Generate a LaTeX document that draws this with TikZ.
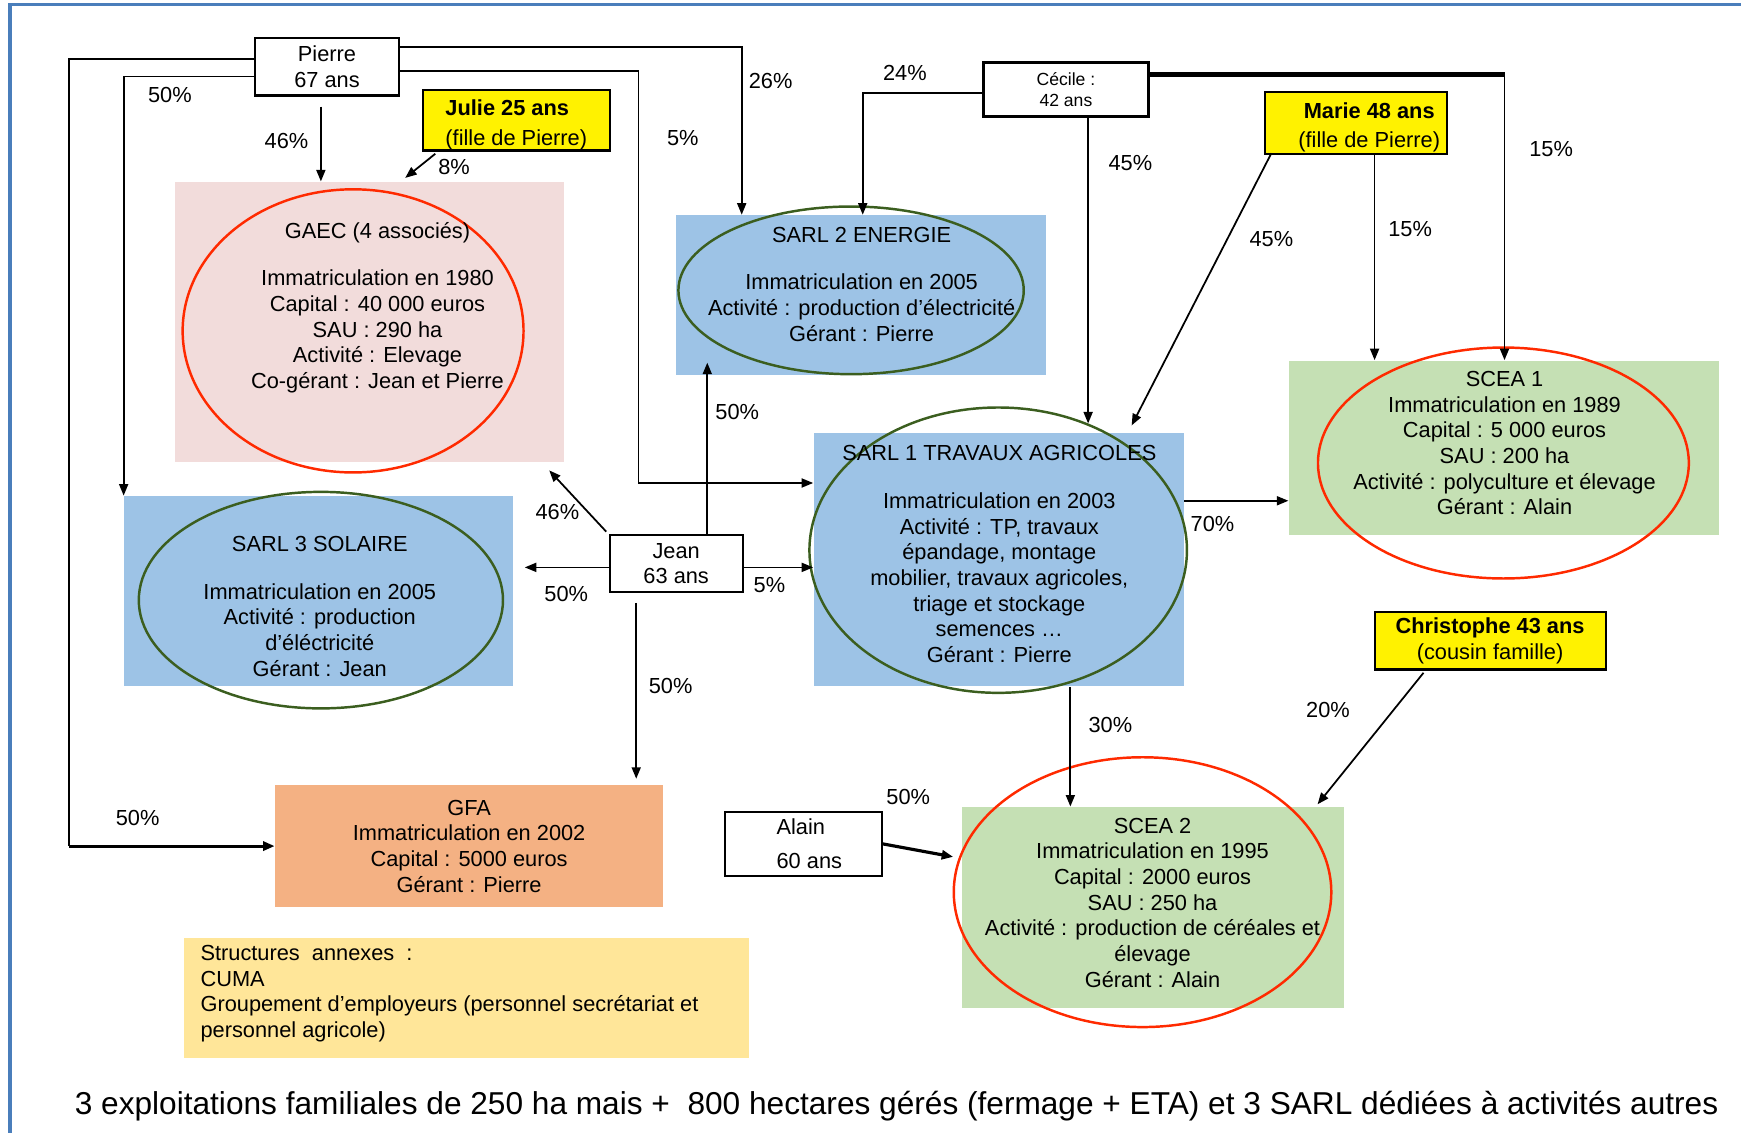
\documentclass[tikz,border=0pt]{standalone}
\usepackage{fontspec}
\setmainfont{Liberation Sans}
\usetikzlibrary{arrows.meta,shapes.geometric,calc}

\newdimen\pxu
\pxu=0.11103mm

\definecolor{framebl}{HTML}{4A7EBB}
\definecolor{gaecfill}{HTML}{F2DCDB}
\definecolor{sarlfill}{HTML}{9DC3E6}
\definecolor{sceafill}{HTML}{C5E0B4}
\definecolor{gfafill}{HTML}{F4B183}
\definecolor{annexfill}{HTML}{FFE699}
\definecolor{ellred}{HTML}{FF2A00}
\definecolor{ellgreen}{HTML}{3B5E1F}

\tikzset{
  zone/.style 2 args={inner sep=0pt, minimum width=#1\pxu, minimum height=#2\pxu},
  ring/.style 2 args={ellipse, draw, line width=0.7pt, inner sep=0pt, minimum width=#1\pxu, minimum height=#2\pxu},
  person/.style 2 args={draw, line width=0.6pt, inner sep=0pt, minimum width=#1\pxu, minimum height=#2\pxu, align=center},
  link/.style={line width=0.5pt},
  arr/.style={link, -{Triangle[length=1.15mm,width=0.9mm]}},
  pct/.style={inner sep=0pt},
}

\begin{document}
\begin{tikzpicture}[x=0.11103mm, y=-0.11103mm,
  every node/.append style={font=\fontsize{6.2}{7.3}\selectfont}]
\useasboundingbox (0,0) rectangle (1568,1020);
\draw[framebl, line width=0.9pt] (9,1020) -- (9,4) -- (1568,4);

% societes
\node[zone={350}{252}, fill=gaecfill] (gaec) at (333,290) {};
\node[ring={307}{255}, draw=ellred] (gaecring) at (318,298) {};
\node[align=center] (gaectext) at (340,277) {GAEC (4 associés)\\[6.3pt]Immatriculation en 1980\\Capital : 40 000 euros\\SAU : 290 ha\\Activité : Elevage\\Co-gérant : Jean et Pierre};

\node[zone={333}{144}, fill=sarlfill] (sarl2) at (775.5,266) {};
\node[ring={311}{151}, draw=ellgreen] (sarl2ring) at (766.5,261.5) {};
\node[align=center] (sarl2text) at (776,256) {SARL 2 ENERGIE\\[6.3pt]Immatriculation en 2005\\Activité : production d’électricité\\Gérant : Pierre};

\node[zone={333}{228}, fill=sarlfill] (sarl1) at (899.5,504) {};
\node[ring={340}{257}, draw=ellgreen] (sarl1ring) at (899,495.5) {};
\node[align=center] (sarl1text) at (900,499) {SARL 1 TRAVAUX AGRICOLES\\[6.3pt]Immatriculation en 2003\\Activité : TP, travaux\\épandage, montage\\mobilier, travaux agricoles,\\triage et stockage\\semences …\\Gérant : Pierre};

\node[zone={350}{171}, fill=sarlfill] (sarl3) at (287,532.5) {};
\node[ring={328}{195}, draw=ellgreen] (sarl3ring) at (289,540.5) {};
\node[align=center] (sarl3text) at (288,546) {SARL 3 SOLAIRE\\[6.3pt]Immatriculation en 2005\\Activité : production\\d’éléctricité\\Gérant : Jean};

\node[zone={387}{157}, fill=sceafill] (scea1) at (1354.5,403.5) {};
\node[ring={334}{208}, draw=ellred] (scea1ring) at (1354,417) {};
\node[align=center] (scea1text) at (1355,399) {SCEA 1\\Immatriculation en 1989\\Capital : 5 000 euros\\SAU : 200 ha\\Activité : polyculture et élevage\\Gérant : Alain};

\node[zone={344}{181}, fill=sceafill] (scea2) at (1038,817.5) {};
\node[ring={340}{243}, draw=ellred] (scea2ring) at (1029,803.5) {};
\node[align=center] (scea2text) at (1038,813) {SCEA 2\\Immatriculation en 1995\\Capital : 2000 euros\\SAU : 250 ha\\Activité : production de céréales et\\élevage\\Gérant : Alain};

\node[zone={349}{110}, fill=gfafill, align=center] (gfa) at (422.5,762) {GFA\\Immatriculation en 2002\\Capital : 5000 euros\\Gérant : Pierre};

\node[zone={509}{108}, fill=annexfill] (annex) at (420.5,899) {};
\node[anchor=west, align=left, inner sep=0pt] (annextext) at (180,895) {Structures~ annexes~ :\\CUMA\\Groupement d’employeurs (personnel secrétariat et\\personnel agricole)};

% personnes
\node[person={129}{52}] (pierre) at (294.5,60) {Pierre\\67 ans};
\node[person={168}{51}, fill=yellow, align=left] (julie) at (465,108.5) {\rule{0pt}{7pt}\textbf{Julie 25 ans}\\[1.5pt](fille de Pierre)};
\node[person={148}{49}, line width=0.9pt, font=\fontsize{5}{6}\selectfont] (cecile) at (960,80.5) {Cécile :\\42 ans};
\node[person={164}{56}, fill=yellow] (marie) at (1221,111) {\rule{0pt}{7pt}\hspace*{2.7mm}\textbf{Marie 48 ans}\\[1pt]\hspace*{2.7mm}(fille de Pierre)};
\node[person={120}{51}] (jean) at (609,507.5) {Jean\\63 ans};
\node[person={141}{58}, align=left] (alain) at (723.5,760) {\hspace*{1.2mm}Alain\\[2.5pt]\hspace*{1.2mm}60 ans};
\node[person={208}{52}, fill=yellow] (christophe) at (1342,577) {\textbf{Christophe 43 ans}\\(cousin famille)};

% liens Pierre
\coordinate (gfabend) at (62,762);
\draw[link] (pierre.west |- 0,53) -| (gfabend);
\draw[arr, line width=0.9pt] (gfabend) -- (gfa.west);
\draw[arr] (pierre.west |- 0,69) -| (sarl3.north west);
\draw[arr, shorten <=9\pxu] (pierre.south -| 289,0) -- (gaec.north -| 289,0);
\draw[arr] (pierre.east |- 0,42) -| (sarl2.north -| 668,0);
\draw[arr] (pierre.east |- 0,64) -- ++(215,0) |- (sarl1.west |- 0,435);
\draw[arr, shorten >=5\pxu] ($(julie.south west)+(12,2)$) -- (gaec.north -| 361,0);

% liens Cecile et Marie
\draw[arr] (cecile.west |- 0,84) -| (sarl2.north -| 777,0);
\draw[arr, shorten >=8\pxu] (cecile.south -| 980,0) -- (sarl1.north -| 980,0);
\coordinate (sceabend) at (1355,67);
\draw[line width=1.6pt] (cecile.east |- 0,67) -- (sceabend);
\draw[arr] (sceabend) -- (sceabend |- scea1.north);
\draw[arr, shorten >=7\pxu] ($(marie.south west)+(7,-2)$) -- (sarl1.north -| 1016,0);
\draw[arr] (marie.south -| 1238,0) -- (scea1.north -| 1238,0);

% liens SARL 1 et Jean
\draw[arr] (sarl1.east |- 0,451) -- (scea1.west |- 0,451);
\draw[arr] (sarl1.south -| 964,0) -- (scea2.north -| 964,0);
\draw[arr, shorten >=-12\pxu] (jean.north -| 637,0) -- (sarl2.south -| 637,0);
\draw[arr, shorten <=3\pxu] (jean.north west) -- ($(gaec.south east)+(-14,7)$);
\draw[arr, shorten >=10\pxu] (jean.west |- 0,511) -- (sarl3.east |- 0,511);
\draw[arr] (jean.east |- 0,511) -- (sarl1.west |- 0,511);
\draw[arr, shorten <=9\pxu, shorten >=5\pxu] (jean.south -| 573,0) -- (gfa.north -| 573,0);

% liens Alain et Christophe
\draw[arr, line width=0.9pt, shorten >=7\pxu] (alain.east) -- (scea2.west |- 0,773);
\draw[arr] ($(christophe.south west)+(45,2)$) -- ($(scea2.north east)+(-24,-2)$);

% pourcentages
\node[pct] (ppgfa) at (124,737) {50\%};
\node[pct] (ppsarl3) at (153,86) {50\%};
\node[pct] (ppgaec) at (258,127) {46\%};
\node[pct] (pjgaec) at (409,150) {8\%};
\node[pct] (ppsarl2) at (694,73) {26\%};
\node[pct] (ppsarl1) at (615,124) {5\%};
\node[pct] (pcsarl2) at (815,66) {24\%};
\node[pct] (pcsarl1) at (1018,147) {45\%};
\node[pct] (pcscea1) at (1397,134) {15\%};
\node[pct] (pmsarl1) at (1145,215) {45\%};
\node[pct] (pmscea1) at (1270,206) {15\%};
\node[pct] (pjsarl2) at (664,371) {50\%};
\node[pct] (pjngaec) at (502,461) {46\%};
\node[pct] (pjsarl3) at (510,535) {50\%};
\node[pct] (pjsarl1) at (693,527) {5\%};
\node[pct] (pjgfa) at (604,618) {50\%};
\node[pct] (psscea1) at (1092,472) {70\%};
\node[pct] (psscea2) at (1000,653) {30\%};
\node[pct] (pascea2) at (818,718) {50\%};
\node[pct] (pcrscea2) at (1196,639) {20\%};

\node[font=\fontsize{9}{10.8}\selectfont] (caption) at (807.5,996) {3 exploitations familiales de 250 ha mais +~ 800 hectares gérés (fermage + ETA) et 3 SARL dédiées à activités autres};
\end{tikzpicture}
\end{document}
